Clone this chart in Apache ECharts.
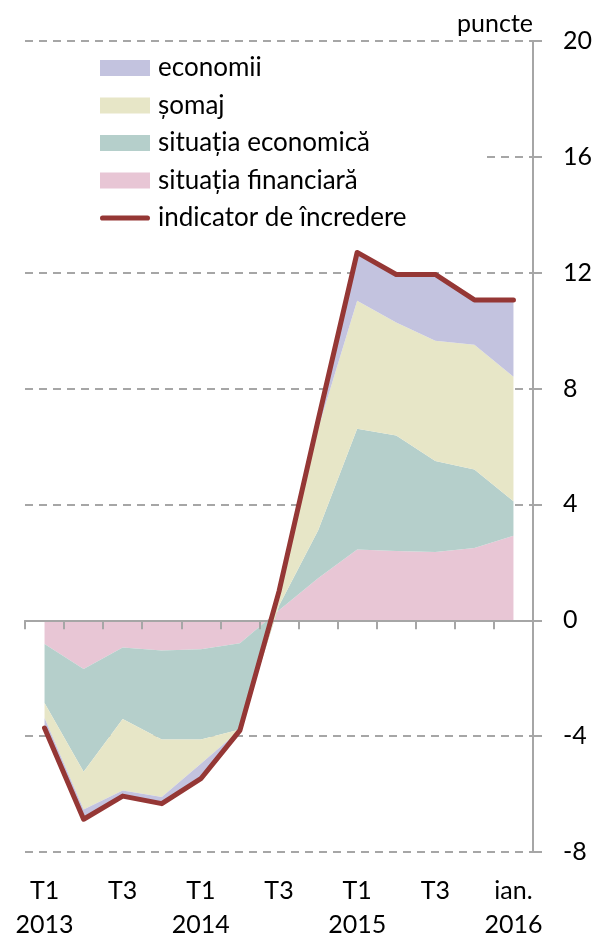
<!DOCTYPE html>
<html>
<head>
<meta charset="utf-8">
<script src="https://cdn.jsdelivr.net/npm/echarts@6/dist/echarts.min.js"></script>
<style>
html,body{margin:0;padding:0;background:#fff;}
#chart{width:595px;height:946px;}
</style>
</head>
<body>
<div id="chart"></div>
<script>
// Categories (quarters 2013 Q1 .. 2015 Q4, Jan 2016)
var categories = ['T1 2013','T2 2013','T3 2013','T4 2013','T1 2014','T2 2014','T3 2014','T4 2014','T1 2015','T2 2015','T3 2015','T4 2015','ian. 2016'];
var tickLabelsTop = ['T1','','T3','','T1','','T3','','T1','','T3','','ian.'];
var tickLabelsBottom = ['2013','','','','2014','','','','2015','','','','2016'];
var yTicks = [-8,-4,0,4,8,12,16,20];

// Series values
var situatiaFinanciara = [-0.82,-1.68,-0.94,-1.04,-1.00,-0.79,0.35,1.45,2.44,2.39,2.36,2.50,2.92];
var situatiaEconomica  = [-2.04,-3.55,-2.47,-3.08,-3.12,-2.98,0.15,1.65,4.17,3.99,3.14,2.71,1.19];
var somaj              = [-0.51,-1.30,-2.47,-1.98,-0.83,-0.02,0.20,3.50,4.42,3.90,4.15,4.30,4.30];
var economii           = [-0.35,-0.34,-0.19,-0.23,-0.52,-0.01,0.30,0.30,1.67,1.66,2.29,1.55,2.65];
var indicatorIncredere = [-3.72,-6.87,-6.07,-6.33,-5.47,-3.80,1.00,6.90,12.70,11.94,11.94,11.06,11.06];

var FONT = 'Lato';
var C_LAV = '#c3c3df', C_YEL = '#e7e6c7', C_TEAL = '#b5cfcb', C_PINK = '#e8c6d5', C_LINE = '#953735';
var GRAY = '#a6a6a6';

function areaSeries(name, data, color) {
  return {
    name: name, type: 'line', stack: 'total', data: data,
    xAxisIndex: 0, yAxisIndex: 0,
    symbol: 'none', showSymbol: false,
    lineStyle: {width: 0, opacity: 0},
    itemStyle: {color: color},
    areaStyle: {color: color, opacity: 1},
    z: 2, animation: false
  };
}

var chart = echarts.init(document.getElementById('chart'), null, {renderer: 'canvas'});
chart.setOption({
  animation: false,
  textStyle: {fontFamily: FONT},
  grid: {left: 25, right: 62, top: 41, bottom: 94, containLabel: false},
  legend: {
    orient: 'vertical',
    left: 25, top: 46,
    padding: [8, 80, 8, 75],
    backgroundColor: '#ffffff',
    z: 8,
    itemWidth: 50, itemHeight: 16, itemGap: 9.5,
    textStyle: {fontFamily: FONT, fontSize: 26, color: '#000', lineHeight: 28, padding: [0,0,0,3]},
    data: [
      {name: 'economii', icon: 'rect', itemStyle: {color: C_LAV}},
      {name: 'șomaj', icon: 'rect', itemStyle: {color: C_YEL}},
      {name: 'situația economică', icon: 'rect', itemStyle: {color: C_TEAL}},
      {name: 'situația financiară', icon: 'rect', itemStyle: {color: C_PINK}},
      {name: 'indicator de încredere', icon: 'path://M3,0 H55 A3,3 0 0 1 55,6 H3 A3,3 0 0 1 3,0 Z', itemStyle: {color: C_LINE}}
    ]
  },
  xAxis: [
    {
      type: 'category', data: categories, boundaryGap: true, position: 'bottom',
      axisLine: {show: false, onZero: false},
      axisTick: {show: false},
      splitLine: {show: false},
      axisLabel: {
        interval: 0, margin: 22, color: '#000', fontFamily: FONT, fontSize: 25, lineHeight: 34,
        formatter: function (v, i) {
          var t = tickLabelsTop[i], b = tickLabelsBottom[i];
          if (!t) return '';
          return b ? t + '\n' + b : t;
        }
      }
    },
    {
      type: 'category', data: categories, boundaryGap: true, position: 'bottom',
      axisLine: {show: true, onZero: true, lineStyle: {color: GRAY, width: 2}},
      axisTick: {show: true, length: 9, interval: 0, lineStyle: {color: GRAY, width: 2}},
      axisLabel: {show: false},
      splitLine: {show: false},
      z: 5
    }
  ],
  yAxis: {
    type: 'value', position: 'right', min: -8, max: 20, interval: 4,
    name: 'puncte', nameLocation: 'end', nameGap: 5,
    nameTextStyle: {fontFamily: FONT, fontSize: 25, color: '#000', align: 'right', verticalAlign: 'bottom'},
    axisLine: {show: true, lineStyle: {color: GRAY, width: 2}},
    axisTick: {show: true, length: 9, lineStyle: {color: GRAY, width: 2}},
    axisLabel: {margin: 30, color: '#000', fontFamily: FONT, fontSize: 25, align: 'left',
      formatter: function (v) { return yTicks.indexOf(v) >= 0 ? String(v) : ''; }},
    splitLine: {show: true, lineStyle: {color: GRAY, width: 2, type: [8, 6]}},
    z: 0
  },
  series: [
    areaSeries('situația financiară', situatiaFinanciara, C_PINK),
    areaSeries('situația economică', situatiaEconomica, C_TEAL),
    areaSeries('șomaj', somaj, C_YEL),
    areaSeries('economii', economii, C_LAV),
    {
      name: 'indicator de încredere', type: 'line', data: indicatorIncredere,
      xAxisIndex: 0, yAxisIndex: 0,
      symbol: 'none', showSymbol: false,
      lineStyle: {color: C_LINE, width: 5, cap: 'round', join: 'round'},
      itemStyle: {color: C_LINE},
      z: 10
    }
  ]
});
</script>
</body>
</html>
